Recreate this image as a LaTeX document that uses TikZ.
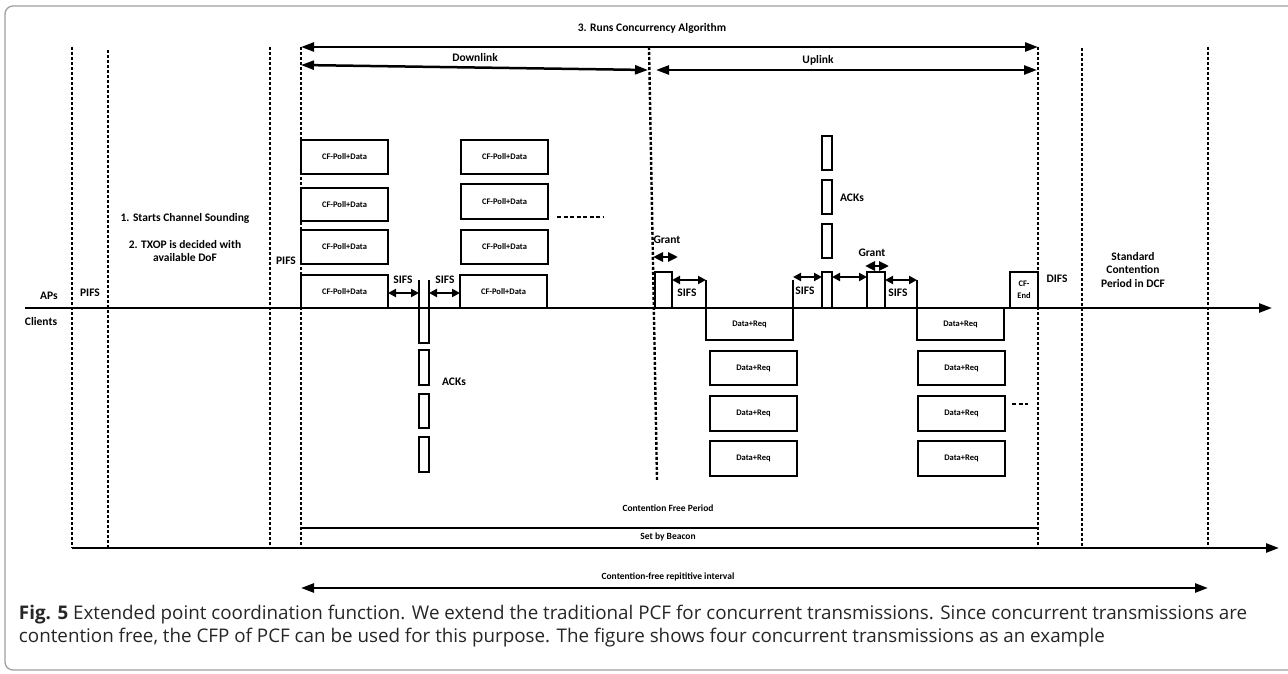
\documentclass[tikz,border=0pt]{standalone}
\usepackage{fontspec}
\setmainfont{Carlito}
\newfontfamily\capfont{Open Sans}
\usetikzlibrary{arrows.meta}
\begin{document}
\begin{tikzpicture}[x=1pt,y=-1pt,
  every node/.style={inner sep=0pt, outer sep=0pt},
  lbl/.style={font=\bfseries\fontsize{11.5}{13.5}\selectfont, align=center},
  small/.style={font=\bfseries\fontsize{9.5}{11}\selectfont},
  frame/.style={draw, line width=2.4pt, fill=white, anchor=north west, font=\bfseries\fontsize{8.5}{10}\selectfont, align=center},
  dots/.style={line width=2.4pt, dash pattern=on 3pt off 2pt},
  thick line/.style={line width=2.5pt},
  bigarr/.style={line width=2.5pt, {Triangle[length=13pt,width=9pt]}-{Triangle[length=13pt,width=9pt]}},
  sarr/.style={line width=2.5pt, {Triangle[length=8pt,width=8pt]}-{Triangle[length=8pt,width=8pt]}},
  garr/.style={line width=2.5pt, {Triangle[length=10pt,width=9pt]}-{Triangle[length=10pt,width=9pt]}},
]
\useasboundingbox (0,0) rectangle (1288,674);
\fill[white] (0,0) rectangle (1288,674);
\draw[gray!75, line width=1.3pt, rounded corners=8pt] (5,6) rectangle (1300,670);

% ---------- vertical dotted markers ----------
\coordinate (v1t) at (72,47);   \coordinate (v1b) at (72,548);
\coordinate (v2t) at (108,50);  \coordinate (v2b) at (108,548);
\coordinate (v3t) at (270,47);  \coordinate (v3b) at (270,548);
\coordinate (v4t) at (301,47);  \coordinate (v4b) at (301,548);
\coordinate (v5t) at (649,47);  \coordinate (v5b) at (657,480);
\coordinate (v6t) at (1038,47); \coordinate (v6b) at (1038,548);
\coordinate (v7t) at (1082,48); \coordinate (v7b) at (1082,548);
\coordinate (v8t) at (1208,47); \coordinate (v8b) at (1208,548);
\foreach \i in {1,...,8} \draw[dots] (v\i t) -- (v\i b);

% ---------- top arrows ----------
\draw[bigarr] (v4t) -- (v6t);
\node[lbl] (alg) at (652,28) {3. Runs Concurrency Algorithm};
\coordinate (dlL) at (301,65); \coordinate (dlR) at (648,70);
\coordinate (ulL) at (656,70); \coordinate (ulR) at (1037,70);
\draw[bigarr] (dlL) -- (dlR);
\draw[bigarr] (ulL) -- (ulR);
\node[lbl] (dl) at (475,58) {Downlink};
\node[lbl] (ul) at (818,60) {Uplink};

% ---------- timeline ----------
\coordinate (tlS) at (25,308); \coordinate (tlE) at (1272,308);
\draw[thick line, -{Triangle[length=13pt,width=9pt]}] (tlS) -- (tlE);
\node[lbl] (aps) at (49,296) {APs};
\node[lbl] (cli) at (41,322) {Clients};
\node[lbl] (pifs1) at (90,293) {PIFS};
\node[lbl] (pifs2) at (286,261) {PIFS};
\node[lbl] (st1) at (185,218) {1. Starts Channel Sounding};
\node[lbl] (st2) at (185,251) {2. TXOP is decided with\\available DoF};

% ---------- downlink frames ----------
\node[frame, minimum width=87pt, minimum height=34pt] (cfA1) at (301,140) {CF-Poll+Data};
\node[frame, minimum width=87pt, minimum height=33pt] (cfA2) at (301,188) {CF-Poll+Data};
\node[frame, minimum width=87pt, minimum height=34pt] (cfA3) at (301,230) {CF-Poll+Data};
\node[frame, minimum width=87pt, minimum height=33pt] (cfA4) at (301,275) {CF-Poll+Data};
\node[frame, minimum width=87pt, minimum height=34pt] (cfB1) at (461,140) {CF-Poll+Data};
\node[frame, minimum width=87pt, minimum height=35pt] (cfB2) at (461,184) {CF-Poll+Data};
\node[frame, minimum width=87pt, minimum height=34pt] (cfB3) at (461,230) {CF-Poll+Data};
\node[frame, minimum width=87pt, minimum height=33pt] (cfB4) at (460,275) {CF-Poll+Data};
\coordinate (dashL) at (557,217); \coordinate (dashR) at (603,217);
\draw[line width=2.4pt, dash pattern=on 4pt off 2.5pt] (dashL) -- (dashR);

% downlink ACKs
\node[frame, minimum width=10pt, minimum height=35pt] (ackD1) at (419,308) {};
\node[frame, minimum width=10pt, minimum height=35pt] (ackD2) at (419,350) {};
\node[frame, minimum width=10pt, minimum height=34pt] (ackD3) at (419,394) {};
\node[frame, minimum width=10pt, minimum height=35pt] (ackD4) at (419,437) {};
\node[lbl] (ackDl) at (454,382) {ACKs};
\coordinate (ackDtl) at (419,280); \coordinate (ackDtr) at (429,280);
\draw[line width=2.4pt] (ackD1.north west) -- (ackDtl);
\draw[line width=2.4pt] (ackD1.north east) -- (ackDtr);
\draw[sarr] (cfA4.east |- 0,293) -- (ackD1.west |- 0,293);
\draw[sarr] (ackD1.east |- 0,293) -- (cfB4.west |- 0,293);
\node[lbl] (sifs1) at (403,280) {SIFS};
\node[lbl] (sifs2) at (445,280) {SIFS};

% ---------- uplink ----------
\node[frame, minimum width=17pt, minimum height=36pt] (gr1) at (655,272) {};
\node[lbl] (grl1) at (667,240) {Grant};
\coordinate (g1L) at (653,257); \coordinate (g1R) at (678,257);
\draw[garr] (g1L) -- (g1R);
\node[frame, minimum width=87pt, minimum height=32pt] (drq1) at (706,308) {Data+Req};
\coordinate (u1t) at (706,280); \coordinate (u2t) at (793,280);
\draw[line width=2.4pt] (drq1.north west) -- (u1t);
\draw[line width=2.4pt] (drq1.north east) -- (u2t);
\draw[sarr] (gr1.east |- 0,280) -- (u1t);
\node[lbl] (sifs3) at (687,293) {SIFS};

\node[frame, minimum width=10pt, minimum height=36pt] (ackU1) at (822,272) {};
\node[frame, minimum width=10pt, minimum height=34pt] (ackU2) at (822,224) {};
\node[frame, minimum width=10pt, minimum height=34pt] (ackU3) at (822,180) {};
\node[frame, minimum width=10pt, minimum height=34pt] (ackU4) at (822,136) {};
\node[lbl] (ackUl) at (852,198) {ACKs};
\draw[sarr] (u2t |- 0,277) -- (ackU1.west |- 0,277);
\node[lbl] (sifs4) at (805,291) {SIFS};

\node[frame, minimum width=18pt, minimum height=36pt] (gr2) at (867,272) {};
\node[lbl] (grl2) at (872,253) {Grant};
\coordinate (g2L) at (865,266); \coordinate (g2R) at (889,266);
\draw[garr] (g2L) -- (g2R);
\draw[sarr] (ackU1.east |- 0,277) -- (gr2.west |- 0,277);

\node[frame, minimum width=87pt, minimum height=32pt] (drq2) at (917,308) {Data+Req};
\coordinate (u3t) at (917,280);
\draw[line width=2.4pt] (drq2.north west) -- (u3t);
\draw[sarr] (gr2.east |- 0,280) -- (u3t);
\node[lbl] (sifs5) at (898,293) {SIFS};

\node[frame, minimum width=28pt, minimum height=36pt, font=\bfseries\fontsize{8.5}{12}\selectfont] (cfend) at (1010,272) {CF-\\End};
\node[lbl] (difs) at (1057,279) {DIFS};
\node[lbl] (std) at (1133,270) {Standard\\Contention\\Period in DCF};

% stacked uplink data
\node[frame, minimum width=87pt, minimum height=34pt] (dL1) at (710,351) {Data+Req};
\node[frame, minimum width=87pt, minimum height=35pt] (dL2) at (710,396) {Data+Req};
\node[frame, minimum width=87pt, minimum height=35pt] (dL3) at (710,441) {Data+Req};
\node[frame, minimum width=87pt, minimum height=34pt] (dR1) at (918,351) {Data+Req};
\node[frame, minimum width=87pt, minimum height=35pt] (dR2) at (918,396) {Data+Req};
\node[frame, minimum width=87pt, minimum height=35pt] (dR3) at (918,441) {Data+Req};
\coordinate (dsL) at (1012,404); \coordinate (dsR) at (1028,404);
\draw[line width=2.4pt, dash pattern=on 4pt off 2.5pt] (dsL) -- (dsR);

% ---------- bottom periods ----------
\coordinate (cfpL) at (301,528); \coordinate (cfpR) at (1038,528);
\draw[thick line] (cfpL) -- (cfpR);
\node[small] (cfp) at (668,508) {Contention Free Period};
\coordinate (sbL) at (72,548); \coordinate (sbR) at (1279,548);
\draw[thick line, -{Triangle[length=13pt,width=9pt]}] (sbL) -- (sbR);
\node[small] (sb) at (668,537) {Set by Beacon};
\coordinate (riL) at (301,588); \coordinate (riR) at (1208,588);
\draw[bigarr] (riL) -- (riR);
\node[small] (ri) at (668,577) {Contention-free repititive interval};

% ---------- caption ----------
\node[anchor=north west, align=left, font=\capfont\fontsize{18.8}{23.5}\selectfont, text=black!85] (cap) at (19,605)
 {\textbf{Fig. 5} Extended point coordination function. We extend the traditional PCF for concurrent transmissions. Since concurrent transmissions are\\
 contention free, the CFP of PCF can be used for this purpose. The figure shows four concurrent transmissions as an example};
\end{tikzpicture}
\end{document}
